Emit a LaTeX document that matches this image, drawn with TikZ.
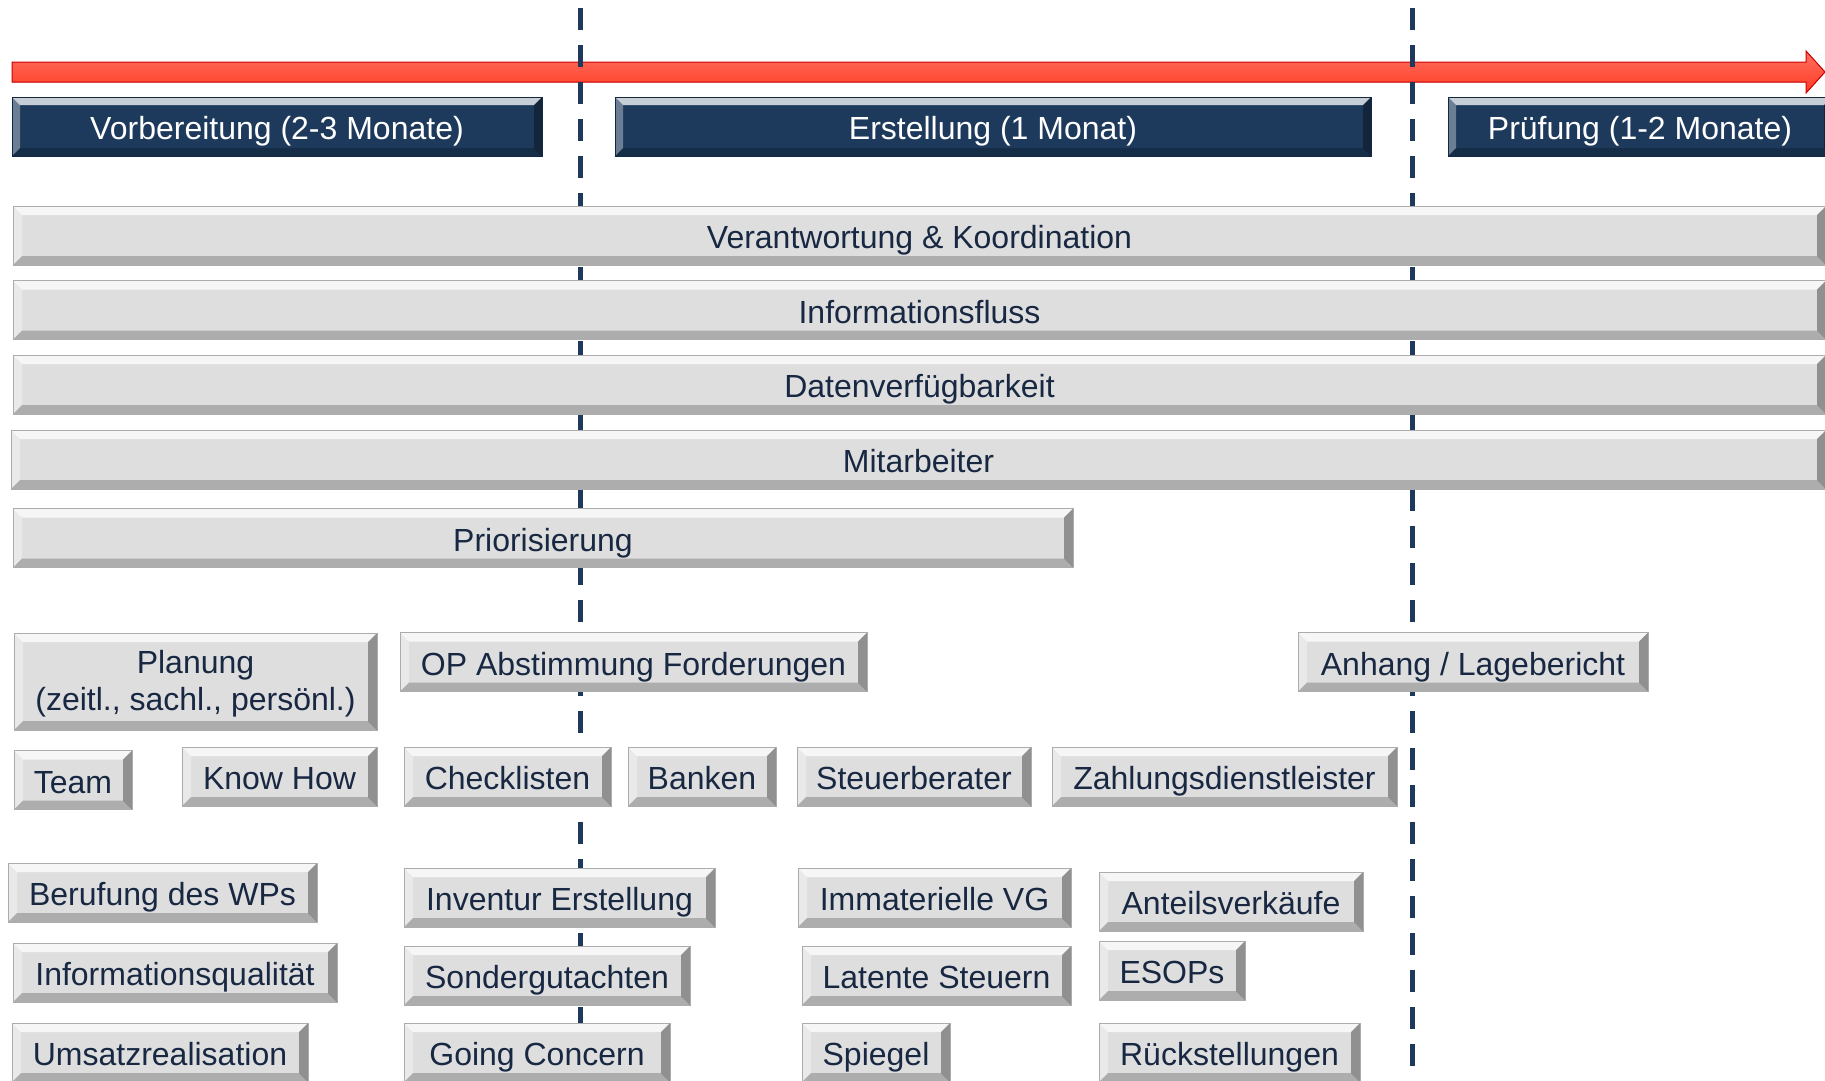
\documentclass[tikz,border=0pt]{standalone}
\usepackage{fontspec}
\setmainfont{Liberation Sans}
\usetikzlibrary{calc}

\definecolor{navy}{RGB}{29,58,92}
\definecolor{textnavy}{RGB}{24,40,66}
\definecolor{boxgray}{RGB}{222,222,222}
\definecolor{redlight}{RGB}{255,112,98}
\definecolor{reddark}{RGB}{255,58,34}

\newcommand{\lbl}{\fontsize{32}{37}\selectfont}

\tikzset{
    bevel/.style = {path picture = {
        \path (path picture bounding box.north west) coordinate (bnw)
              (path picture bounding box.south east) coordinate (bse)
              (bnw -| bse) coordinate (bne)
              (bnw |- bse) coordinate (bsw);
        \fill[white, opacity = .75] (bnw) -- (bne) -- ($(bne)+(-#1,#1)$) -- ($(bnw)+(#1,#1)$) -- cycle;
        \fill[white, opacity = .35] (bnw) -- ($(bnw)+(#1,#1)$) -- ($(bsw)+(#1,-#1)$) -- (bsw) -- cycle;
        \fill[black, opacity = .35] (bne) -- (bse) -- ($(bse)+(-#1,-#1)$) -- ($(bne)+(-#1,#1)$) -- cycle;
        \fill[black, opacity = .22] (bsw) -- (bse) -- ($(bse)+(-#1,-#1)$) -- ($(bsw)+(#1,-#1)$) -- cycle;
    }},
    bevel/.default = 9
}

\begin{document}
\begin{tikzpicture}[x = 1pt, y = -1pt,
    box/.style = {draw = gray!65, fill = boxgray, bevel, inner sep = 0pt, text = textnavy, font = \lbl, align = center},
    phasebox/.style = {draw = navy!70!black, fill = navy, bevel = 8, inner sep = 0pt, text = white, font = \lbl,
        minimum height = 59, text height = 28pt, text depth = 2pt},
    bar/.style = {box, minimum height = 59, text height = 28pt, text depth = 2pt},
    item/.style = {box, minimum height = 59, text height = 28pt, text depth = 2pt},
    divider/.style = {draw = navy, line width = 5pt, dash pattern = on 21.5pt off 15.5pt}]
    \useasboundingbox (0,0) rectangle (1825,1080);

    % timeline
    \fill[top color = redlight, bottom color = reddark, draw = red!80!black, line width = 1pt]
        (12,62) -- (1806,62) -- (1806,51) -- (1825,72) -- (1806,93) -- (1806,82) -- (12,82) -- cycle;

    % phase borders
    \coordinate (sep1top) at (580,8);
    \coordinate (sep1bot) at (580,1085);
    \coordinate (sep2top) at (1412,8);
    \coordinate (sep2bot) at (1412,1085);
    \draw[divider] (sep1top) -- (sep1bot);
    \draw[divider] (sep2top) -- (sep2bot);

    % phases
    \node[phasebox, minimum width = 530] (vorb) at (277,126.5) {Vorbereitung (2-3 Monate)};
    \node[phasebox, minimum width = 756] (erst) at (993,126.5) {Erstellung (1 Monat)};
    \node[phasebox, minimum width = 384] (pruef) at (1640,126.5) {Prüfung (1-2 Monate)};

    % bars over all phases
    \node[bar, minimum width = 1813] (verantw) at (919.5,235.5) {Verantwortung \& Koordination};
    \node[bar, minimum width = 1813] (infofluss) at (919.5,310) {Informationsfluss};
    \node[bar, minimum width = 1813] (daten) at (919.5,384.5) {Datenverfügbarkeit};
    \node[bar, minimum width = 1815] (mitarb) at (918.5,459.5) {Mitarbeiter};
    \node[bar, minimum width = 1060] (prio) at (543,538) {Priorisierung};

    % topics
    \node[box, minimum width = 363, minimum height = 97, text height = 60pt, text depth = 2pt] (planung) at (195.5,681.5) {Planung\\(zeitl., sachl., persönl.)};
    \node[item, minimum width = 467] (opabst) at (633.5,662) {OP Abstimmung Forderungen};
    \node[item, minimum width = 350] (anhang) at (1473,662) {Anhang / Lagebericht};

    \node[item, minimum width = 118] (team) at (73,780) {Team};
    \node[item, minimum width = 195] (knowhow) at (279.5,776.5) {Know How};
    \node[item, minimum width = 207] (checkl) at (507.5,776.5) {Checklisten};
    \node[item, minimum width = 148] (banken) at (702,776.5) {Banken};
    \node[item, minimum width = 234] (steuerb) at (914,776.5) {Steuerberater};
    \node[item, minimum width = 345] (zahlung) at (1224.5,776.5) {Zahlungsdienstleister};

    \node[item, minimum width = 309] (berufung) at (162.5,892.5) {Berufung des WPs};
    \node[item, minimum width = 311] (inventur) at (559.5,897.5) {Inventur Erstellung};
    \node[item, minimum width = 273] (immat) at (934.5,897.5) {Immaterielle VG};
    \node[item, minimum width = 264] (anteile) at (1231,901.5) {Anteilsverkäufe};

    \node[item, minimum width = 324] (infoqual) at (175,972.5) {Informationsqualität};
    \node[item, minimum width = 286] (sonder) at (547,975.5) {Sondergutachten};
    \node[item, minimum width = 269] (latente) at (936.5,975.5) {Latente Steuern};
    \node[item, minimum width = 146] (esops) at (1172,970.5) {ESOPs};

    \node[item, minimum width = 296] (umsatz) at (160,1052.5) {Umsatzrealisation};
    \node[item, minimum width = 266] (going) at (537,1052.5) {Going Concern};
    \node[item, minimum width = 148] (spiegel) at (876,1052.5) {Spiegel};
    \node[item, minimum width = 261] (rueckst) at (1229.5,1052.5) {Rückstellungen};
\end{tikzpicture}
\end{document}
